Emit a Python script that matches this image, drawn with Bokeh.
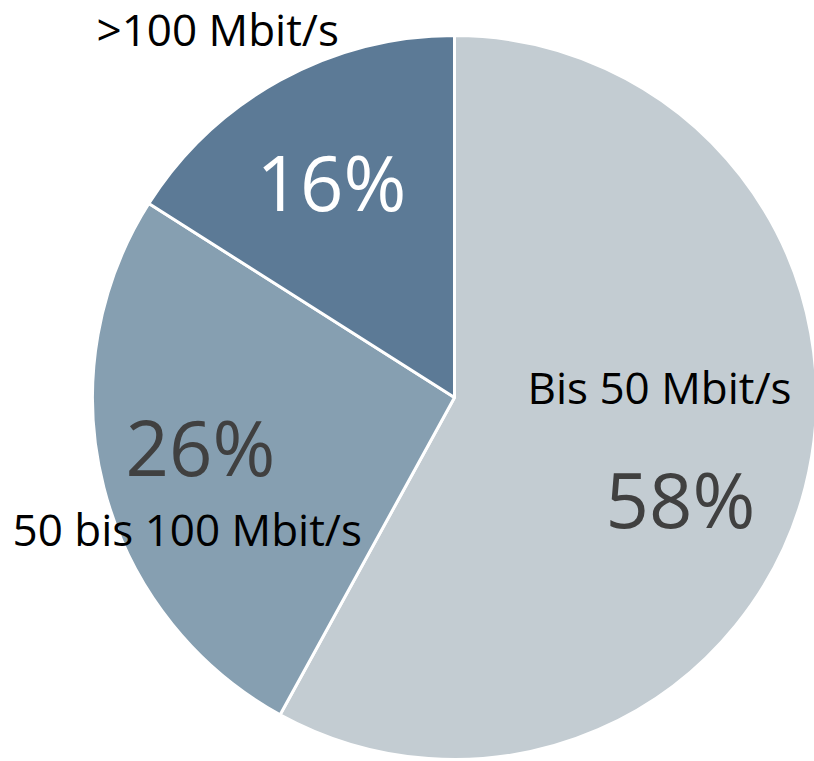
import numpy as np
from bokeh.plotting import figure
from bokeh.models import ColumnDataSource, Range1d
from bokeh.core.properties import value
from bokeh.embed import file_html
from bokeh.resources import INLINE

# Data
categories = ["Bis 50 Mbit/s", "50 bis 100 Mbit/s", ">100 Mbit/s"]
shares = [58, 26, 16]
pct_labels = ["58%", "26%", "16%"]
colors = ["#c3ccd2", "#869fb1", "#5c7a96"]
pct_colors = ["#404040", "#404040", "#ffffff"]

W, H = 814, 761
p = figure(width=W, height=H, output_backend="svg", toolbar_location=None,
           x_range=Range1d(0, W), y_range=Range1d(0, H), min_border=0)
p.axis.visible = False
p.grid.visible = False
p.outline_line_color = None
p.background_fill_color = "white"

vals = np.array(shares, dtype=float)
frac = vals / vals.sum()
cum_end = np.cumsum(frac)
cum_start = cum_end - frac
start = np.pi / 2 - 2 * np.pi * cum_end
end = np.pi / 2 - 2 * np.pi * cum_start

cx, cy, r = 454, 761 - 397, 362
src = ColumnDataSource(dict(cat=categories, start=start, end=end, color=colors))
p.wedge(x=cx, y=cy, radius=r, start_angle="start", end_angle="end",
        fill_color="color", line_color="white", line_width=3, source=src)

# category labels (left x, baseline y in pixels from top)
fs_cat, fs_pct = 44, 76
cat_pos = [(527, 403), (12, 545), (96, 45)]
p.text(x=[q[0] for q in cat_pos], y=[H - (q[1] - 0.37 * fs_cat) for q in cat_pos], text=categories,
       text_font=value("Open Sans"), text_font_size=f"{fs_cat}px", text_color="#000000",
       text_align="left", text_baseline="alphabetic")

pct_pos = [(605, 526), (125, 474), (256, 209)]
p.text(x=[q[0] for q in pct_pos], y=[H - (q[1] - 0.37 * fs_pct) for q in pct_pos], text=pct_labels,
       text_font=value("Open Sans"), text_font_size=f"{fs_pct}px", text_color=pct_colors,
       text_align="left", text_baseline="alphabetic")

open("out.html", "w").write(file_html(p, INLINE))
